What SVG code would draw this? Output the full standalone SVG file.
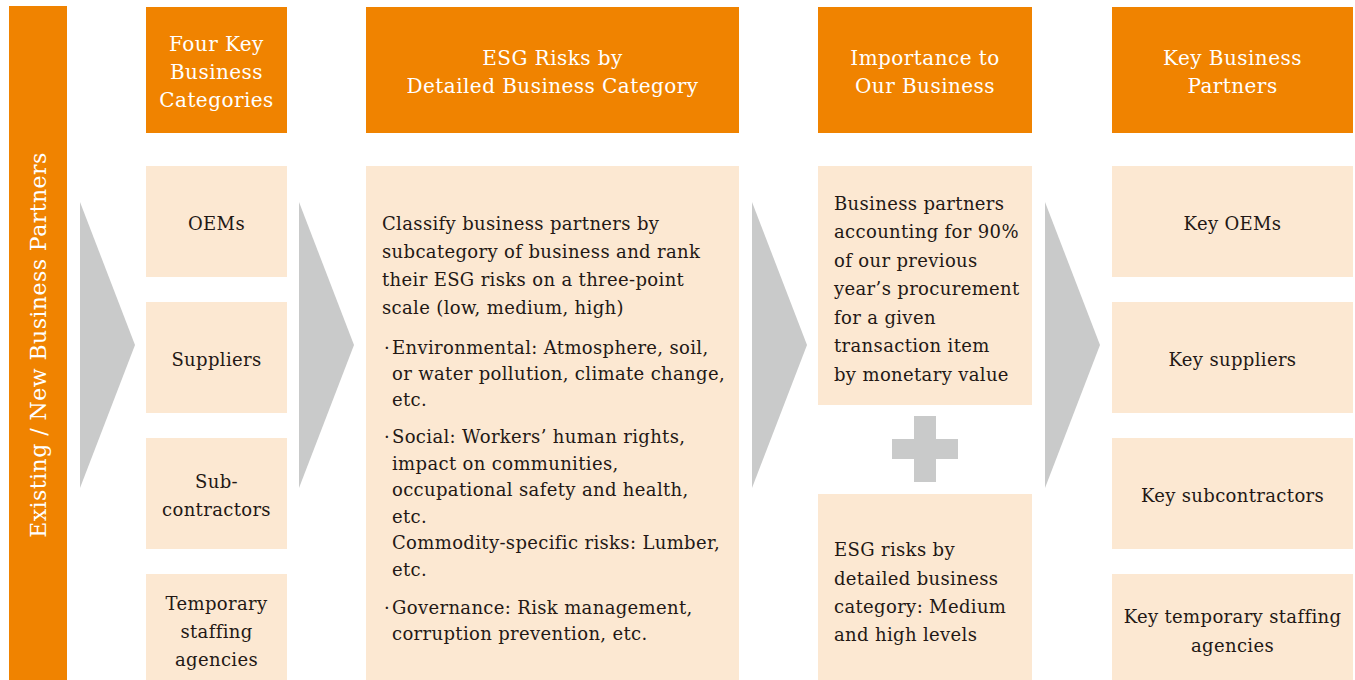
<svg xmlns="http://www.w3.org/2000/svg" width="1355" height="680" viewBox="0 0 1355 680">
<style>
.hdr{fill:#F08300}
.box{fill:#FCE8D2}
.arr{fill:#C9CACA}
text{font-family:"DejaVu Serif","Liberation Serif","Noto Sans CJK JP",serif}
.ht{fill:#FFFFFF;font-size:20px;text-anchor:middle;letter-spacing:0.45px}
.bt{fill:#231815;font-size:18px;letter-spacing:0.35px}
.c{text-anchor:middle}
</style>
<rect width="1355" height="680" fill="#FFFFFF"/>
<g id="side">
<rect class="hdr" x="9" y="6" width="58" height="674"/>
<text class="ht" transform="translate(46,345) rotate(-90)" style="font-size:22px">Existing / New Business Partners</text>
</g>
<g id="connectors">
<polygon class="arr" points="80,202 135,345 80,488"/>
<polygon class="arr" points="299,202 354,345 299,488"/>
<polygon class="arr" points="752,202 807,345 752,488"/>
<polygon class="arr" points="1045,202 1100,345 1045,488"/>
<g id="plus">
<rect class="arr" x="914" y="416" width="22" height="66"/>
<rect class="arr" x="892" y="439" width="66" height="20"/>
</g>
</g>
<g id="h1"><rect class="hdr" x="146" y="7" width="141" height="126"/>
<text class="ht" x="216.5" y="51">Four Key</text><text class="ht" x="216.5" y="79">Business</text><text class="ht" x="216.5" y="107">Categories</text></g>
<g id="h2"><rect class="hdr" x="366" y="7" width="373" height="126"/>
<text class="ht" x="552.5" y="65">ESG Risks by</text><text class="ht" x="552.5" y="93">Detailed Business Category</text></g>
<g id="h3"><rect class="hdr" x="818" y="7" width="214" height="126"/>
<text class="ht" x="925" y="65">Importance to</text><text class="ht" x="925" y="93">Our Business</text></g>
<g id="h4"><rect class="hdr" x="1112" y="7" width="241" height="126"/>
<text class="ht" x="1232.5" y="65">Key Business</text><text class="ht" x="1232.5" y="93">Partners</text></g>
<g id="oems"><rect class="box" x="146" y="166" width="141" height="111"/><text class="bt c" x="216.5" y="230">OEMs</text></g>
<g id="suppliers"><rect class="box" x="146" y="302" width="141" height="111"/><text class="bt c" x="216.5" y="366">Suppliers</text></g>
<g id="subcontractors"><rect class="box" x="146" y="438" width="141" height="111"/><text class="bt c" x="216.5" y="488">Sub-</text><text class="bt c" x="216.5" y="516">contractors</text></g>
<g id="temporary"><rect class="box" x="146" y="574" width="141" height="106"/><text class="bt c" x="216.5" y="610">Temporary</text><text class="bt c" x="216.5" y="638">staffing</text><text class="bt c" x="216.5" y="666">agencies</text></g>
<g id="esg"><rect class="box" x="366" y="166" width="373" height="514"/>
<text class="bt" x="382" y="230">Classify business partners by</text>
<text class="bt" x="382" y="258">subcategory of business and rank</text>
<text class="bt" x="382" y="286">their ESG risks on a three-point</text>
<text class="bt" x="382" y="314">scale (low, medium, high)</text>
<text class="bt" x="384" y="354">·<tspan x="392">Environmental: Atmosphere, soil,</tspan></text>
<text class="bt" x="392" y="380">or water pollution, climate change,</text>
<text class="bt" x="392" y="406">etc.</text>
<text class="bt" x="384" y="443">·<tspan x="392">Social: Workers’ human rights,</tspan></text>
<text class="bt" x="392" y="470">impact on communities,</text>
<text class="bt" x="392" y="496">occupational safety and health,</text>
<text class="bt" x="392" y="523">etc.</text>
<text class="bt" x="392" y="549">Commodity-specific risks: Lumber,</text>
<text class="bt" x="392" y="576">etc.</text>
<text class="bt" x="384" y="614">·<tspan x="392">Governance: Risk management,</tspan></text>
<text class="bt" x="392" y="640">corruption prevention, etc.</text>
</g>
<g id="importance1"><rect class="box" x="818" y="166" width="214" height="239"/>
<text class="bt" x="834" y="210">Business partners</text>
<text class="bt" x="834" y="238">accounting for 90%</text>
<text class="bt" x="834" y="267">of our previous</text>
<text class="bt" x="834" y="295">year’s procurement</text>
<text class="bt" x="834" y="324">for a given</text>
<text class="bt" x="834" y="352">transaction item</text>
<text class="bt" x="834" y="381">by monetary value</text>
</g>
<g id="importance2"><rect class="box" x="818" y="494" width="214" height="186"/>
<text class="bt" x="834" y="556">ESG risks by</text>
<text class="bt" x="834" y="585">detailed business</text>
<text class="bt" x="834" y="613">category: Medium</text>
<text class="bt" x="834" y="641">and high levels</text>
</g>
<g id="keyoems"><rect class="box" x="1112" y="166" width="241" height="111"/><text class="bt c" x="1232.5" y="230">Key OEMs</text></g>
<g id="keysuppliers"><rect class="box" x="1112" y="302" width="241" height="111"/><text class="bt c" x="1232.5" y="366">Key suppliers</text></g>
<g id="keysub"><rect class="box" x="1112" y="438" width="241" height="111"/><text class="bt c" x="1232.5" y="502">Key subcontractors</text></g>
<g id="keytemp"><rect class="box" x="1112" y="574" width="241" height="106"/><text class="bt c" x="1232.5" y="623">Key temporary staffing</text><text class="bt c" x="1232.5" y="652">agencies</text></g>
</svg>
